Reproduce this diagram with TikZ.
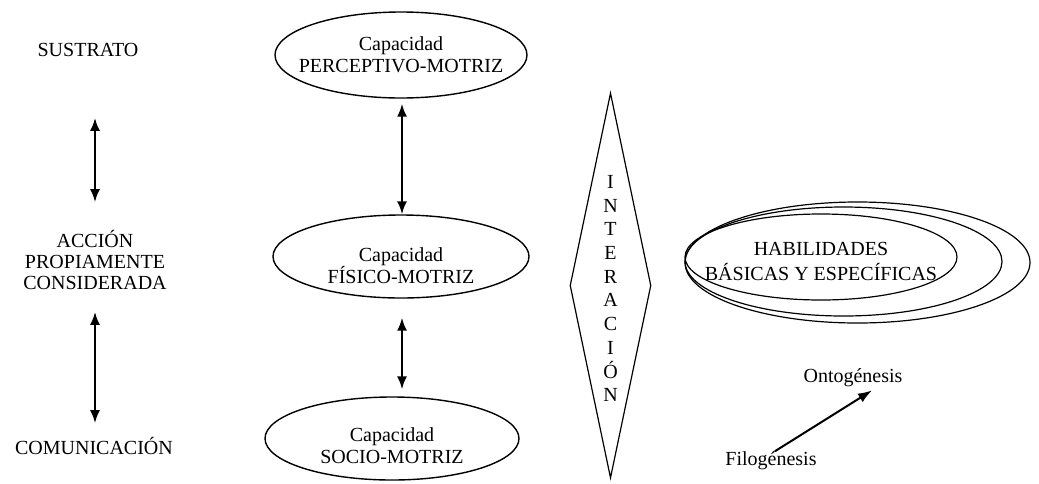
\documentclass[tikz,border=0pt]{standalone}
\usepackage{fontspec}
\setmainfont{Liberation Serif}
\usepackage{tikz}
\usetikzlibrary{shapes.geometric,arrows.meta,positioning}
\tikzstyle{capacidad}=[draw,ellipse,line width=1.4pt]
\tikzstyle{habilidad}=[draw,ellipse,line width=1.2pt]
\tikzstyle{rotulo}=[align=center,font=\fontsize{20}{22}\selectfont]
\tikzstyle{flecha}=[line width=2pt,{Latex[length=13pt,width=10pt]}-{Latex[length=13pt,width=10pt]}]

\begin{document}
\begin{tikzpicture}[x=1pt,y=-1pt,
  every node/.style={inner sep=0pt,font=\fontsize{20}{21}\selectfont}]
\useasboundingbox (0,0) rectangle (1039,483);
% columna izquierda
\node (sus) at (88,50) {SUSTRATO};
\node [align=center] (acc) at (95,260) {ACCIÓN\\PROPIAMENTE\\CONSIDERADA};
\node (com) at (94,446) {COMUNICACIÓN};
\draw [flecha, shorten <=61pt, shorten >=28pt] (acc.north |- sus.south) -- (acc.north);
\draw [flecha, shorten <=22pt, shorten >=14pt] (acc.south) -- (acc.south |- com.north);
% capacidades
\node [capacidad, minimum width=252pt, minimum height=86pt,
  label={[rotulo]center:Capacidad\\PERCEPTIVO-MOTRIZ}] (per) at (401,55) {};
\node [capacidad, minimum width=256pt, minimum height=83pt,
  label={[rotulo,yshift=-9pt]center:Capacidad\\FÍSICO-MOTRIZ}] (fis) at (401,256.5) {};
\node [capacidad, minimum width=254pt, minimum height=83pt,
  label={[rotulo,yshift=-7pt]center:Capacidad\\SOCIO-MOTRIZ}] (soc) at (392,438.5) {};
\draw [flecha, shorten <=5pt] ([xshift=1pt]per.south) -- ([xshift=1pt]fis.north);
\draw [flecha, shorten <=19pt, shorten >=7pt] ([xshift=1pt]fis.south) -- ([xshift=1pt]fis.south |- soc.north);
% interaccion
\node [draw, diamond, line width=1.2pt, minimum width=81pt, minimum height=385pt,
  label={[align=center,font=\fontsize{20}{23.7}\selectfont,yshift=-3pt]center:I\\N\\T\\E\\R\\A\\C\\I\\Ó\\N}] (inter) at (610.5,285.5) {};
% habilidades
\node [habilidad, minimum width=345pt, minimum height=121pt] (h3) at (857.5,262.5) {};
\node [habilidad, minimum width=317pt, minimum height=109pt] (h2) at (843.5,261.5) {};
\node [habilidad, minimum width=272pt, minimum height=86pt,
  label={[align=center,font=\fontsize{20}{25}\selectfont,yshift=-4pt]center:HABILIDADES\\BÁSICAS Y ESPECÍFICAS}] (h1) at (821,257) {};
\node (onto) at (853,377.5) {Ontogénesis};
\node (filo) at (771,460.5) {Filogénesis};
\draw [line width=2pt, -{Latex[length=14pt,width=10pt]}] ([xshift=4pt]filo.north) -- ([xshift=19pt,yshift=-3.6pt]onto.south);
\end{tikzpicture}
\end{document}
